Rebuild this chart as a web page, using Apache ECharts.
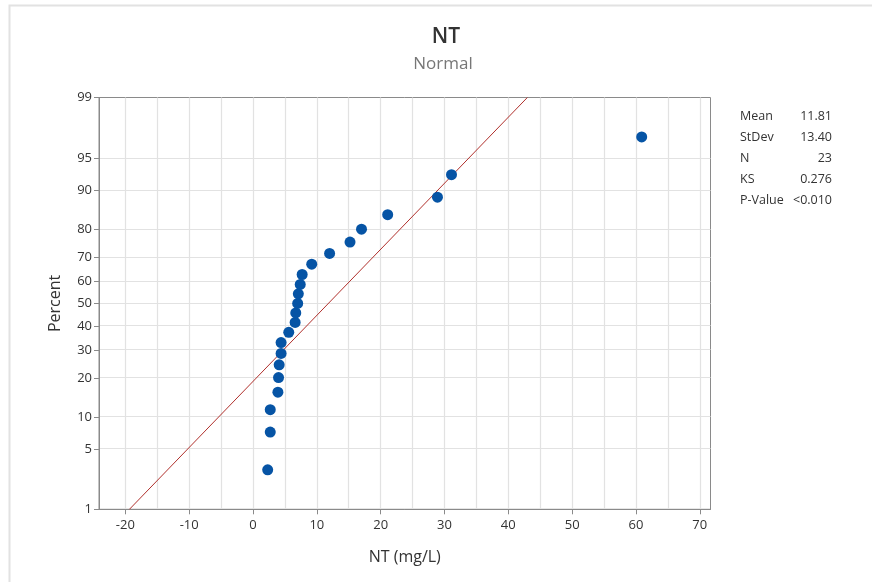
<!DOCTYPE html>
<html>
<head>
<meta charset="utf-8">
<script src="https://cdn.jsdelivr.net/npm/echarts@6/dist/echarts.min.js"></script>
<style>
  html, body { margin: 0; padding: 0; background: #fff; }
  #chart { width: 872px; height: 582px; }
</style>
</head>
<body>
<div id="chart"></div>
<script>
// ---- data ----
const ntValues = [2.3, 2.7, 2.7, 3.9, 4.0, 4.1, 4.4, 4.4, 5.6, 6.6, 6.7, 7.0, 7.1, 7.4, 7.7, 9.2, 12.0, 15.2, 17.0, 21.1, 28.9, 31.1, 60.9];
const percents = [3.0, 7.3, 11.5, 15.8, 20.1, 24.4, 28.6, 32.9, 37.2, 41.5, 45.7, 50.0, 54.3, 58.5, 62.8, 67.1, 71.4, 75.6, 79.9, 84.2, 88.5, 92.7, 97.0];
const yTickPercents = [1, 5, 10, 20, 30, 40, 50, 60, 70, 80, 90, 95, 99];
const xTickLabels = [-20, -10, 0, 10, 20, 30, 40, 50, 60, 70];
const xGridValues = [-20, -15, -10, -5, 0, 5, 10, 15, 20, 25, 30, 35, 40, 45, 50, 55, 60, 65, 70];
const statLabels = ['Mean', 'StDev', 'N', 'KS', 'P-Value'];
const statValues = ['11.81', '13.40', '23', '0.276', '<0.010'];
const fitMean = 11.81;
const fitStDev = 13.40;
const xMin = -24.13, xMax = 71.68;

// ---- normal probability scale transform (inverse normal CDF) ----
function qnorm(p) {
  const a = [-3.969683028665376e+01, 2.209460984245205e+02, -2.759285104469687e+02, 1.383577518672690e+02, -3.066479806614716e+01, 2.506628277459239e+00];
  const b = [-5.447609879822406e+01, 1.615858368580409e+02, -1.556989798598866e+02, 6.680131188771972e+01, -1.328068155288572e+01];
  const c = [-7.784894002430293e-03, -3.223964580411365e-01, -2.400758277161838e+00, -2.549732539343734e+00, 4.374664141464968e+00, 2.938163982698783e+00];
  const d = [7.784695709041462e-03, 3.224671290700398e-01, 2.445134137142996e+00, 3.754408661907416e+00];
  const pl = 0.02425, ph = 1 - pl;
  let q, r;
  if (p < pl) {
    q = Math.sqrt(-2 * Math.log(p));
    return (((((c[0]*q+c[1])*q+c[2])*q+c[3])*q+c[4])*q+c[5]) / ((((d[0]*q+d[1])*q+d[2])*q+d[3])*q+1);
  } else if (p <= ph) {
    q = p - 0.5; r = q * q;
    return (((((a[0]*r+a[1])*r+a[2])*r+a[3])*r+a[4])*r+a[5])*q / (((((b[0]*r+b[1])*r+b[2])*r+b[3])*r+b[4])*r+1);
  } else {
    q = Math.sqrt(-2 * Math.log(1 - p));
    return -(((((c[0]*q+c[1])*q+c[2])*q+c[3])*q+c[4])*q+c[5]) / ((((d[0]*q+d[1])*q+d[2])*q+d[3])*q+1);
  }
}
const zOf = pct => qnorm(pct / 100);
const yTickZ = yTickPercents.map(zOf);
const yMin = zOf(1), yMax = zOf(99);

const points = ntValues.map((v, i) => [v, zOf(percents[i])]);
const fitLine = [[fitMean + fitStDev * yMin, yMin], [fitMean + fitStDev * yMax, yMax]];

const FONT = '"Open Sans", "Noto Sans", sans-serif';
const chart = echarts.init(document.getElementById('chart'), null, { renderer: 'canvas' });

const gridMarks = xGridValues.map(v => ({ xAxis: v })).concat(yTickZ.map(z => ({ yAxis: z })));

const graphics = [
  { type: 'rect', shape: { x: 9.5, y: 5.5, width: 900, height: 600 }, style: { fill: 'none', stroke: '#e2e2e2', lineWidth: 2 }, z: -10, silent: true },
  { type: 'text', x: 446, y: 37, style: { text: 'NT', font: '600 21px ' + FONT, fill: '#333', align: 'center', verticalAlign: 'middle' } },
  { type: 'text', x: 443, y: 64, style: { text: 'Normal', font: '17px ' + FONT, fill: '#777', align: 'center', verticalAlign: 'middle' } }
];
statLabels.forEach((lab, i) => {
  graphics.push({ type: 'text', x: 740, y: 116 + i * 21, style: { text: lab, font: '12.5px ' + FONT, fill: '#333', align: 'left', verticalAlign: 'middle' } });
  graphics.push({ type: 'text', x: 832, y: 116 + i * 21, style: { text: statValues[i], font: '12.5px ' + FONT, fill: '#333', align: 'right', verticalAlign: 'middle' } });
});

chart.setOption({
  animation: false,
  backgroundColor: '#fff',
  grid: { left: 99, top: 97.5, width: 611.5, height: 411.8, show: true, borderColor: '#8a8a8a', borderWidth: 1, backgroundColor: 'transparent' },
  xAxis: {
    type: 'value', min: xMin, max: xMax,
    name: 'NT (mg/L)', nameLocation: 'middle', nameGap: 40,
    nameTextStyle: { fontFamily: FONT, fontSize: 16, color: '#333' },
    axisLine: { show: true, onZero: false, lineStyle: { color: '#8a8a8a' } },
    axisTick: { show: true, inside: false, length: 5, customValues: xTickLabels, lineStyle: { color: '#8a8a8a' } },
    axisLabel: { customValues: xTickLabels, fontFamily: FONT, fontSize: 13, color: '#333', margin: 9 },
    splitLine: { show: false }
  },
  yAxis: {
    type: 'value', min: yMin, max: yMax,
    name: 'Percent', nameLocation: 'middle', nameGap: 36, nameRotate: 90,
    nameTextStyle: { fontFamily: FONT, fontSize: 16, color: '#333' },
    axisLine: { show: true, onZero: false, lineStyle: { color: '#8a8a8a' } },
    axisTick: { show: true, inside: false, length: 5, customValues: yTickZ, lineStyle: { color: '#8a8a8a' } },
    axisLabel: {
      customValues: yTickZ, fontFamily: FONT, fontSize: 13, color: '#333', margin: 7,
      formatter: function (val) {
        let best = 0, bd = Infinity;
        yTickZ.forEach((z, i) => { const d = Math.abs(z - val); if (d < bd) { bd = d; best = i; } });
        return String(yTickPercents[best]);
      }
    },
    splitLine: { show: false }
  },
  series: [
    {
      type: 'line', data: [], z: 0, silent: true,
      markLine: {
        z: 0, silent: true, symbol: 'none', animation: false,
        label: { show: false },
        lineStyle: { color: '#e2e2e2', type: 'solid', width: 1.2 },
        emphasis: { disabled: true },
        data: gridMarks
      }
    },
    {
      type: 'line', data: fitLine, z: 8, silent: true, symbol: 'none',
      lineStyle: { color: '#b0302c', width: 1 }
    },
    {
      type: 'scatter', data: points, z: 10, symbol: 'circle', symbolSize: 11,
      itemStyle: { color: '#0654a5', opacity: 1 }
    }
  ],
  graphic: graphics
});
</script>
</body>
</html>
